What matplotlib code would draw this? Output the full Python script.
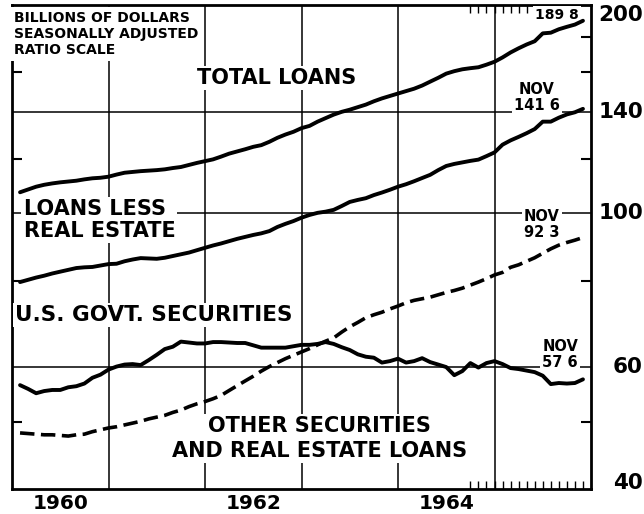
import numpy as np
import matplotlib
matplotlib.use("Agg")
import matplotlib.pyplot as plt
from matplotlib.ticker import FixedLocator, NullLocator, NullFormatter
from matplotlib.transforms import blended_transform_factory

plt.rcParams['font.family'] = 'DejaVu Sans'
plt.rcParams['font.weight'] = 'bold'

# monthly series, Jan 1960 - Nov 1965, billions of dollars (seasonally adjusted)
month_index = np.arange(71)
dates = 1960 + (month_index + 1) / 12.0

total_loans = [
    107.3, 108.3, 109.3, 110.0, 110.5, 110.9, 111.2, 111.5, 112.0, 112.4, 112.6, 113.0,
    113.8, 114.5, 114.8, 115.1, 115.3, 115.5, 115.8, 116.3, 116.7, 117.5, 118.3, 119.0,
    119.7, 120.8, 122.0, 122.9, 123.8, 124.8, 125.5, 126.9, 128.6, 130.0, 131.2, 132.8,
    133.8, 135.7, 137.3, 138.9, 140.2, 141.2, 142.4, 143.6, 145.2, 146.6, 147.8, 149.0,
    150.2, 151.4, 153.0, 155.0, 157.0, 159.2, 160.5, 161.5, 162.1, 162.6, 164.0, 165.6,
    168.0, 170.8, 173.2, 175.4, 177.3, 182.0, 182.4, 184.5, 186.0, 187.4, 189.8]

loans_less_re = [
    79.6, 80.2, 80.8, 81.3, 81.9, 82.4, 82.9, 83.4, 83.6, 83.7, 84.1, 84.5,
    84.6, 85.3, 85.8, 86.2, 86.1, 86.0, 86.3, 86.8, 87.3, 87.8, 88.5, 89.2,
    89.9, 90.5, 91.2, 91.9, 92.5, 93.1, 93.6, 94.3, 95.6, 96.6, 97.5, 98.6,
    99.5, 100.2, 100.6, 101.2, 102.5, 103.9, 104.6, 105.2, 106.3, 107.2, 108.2, 109.3,
    110.2, 111.3, 112.5, 113.7, 115.5, 117.1, 117.9, 118.5, 119.1, 119.6, 121.0, 122.5,
    125.7, 127.5, 129.0, 130.6, 132.4, 135.7, 135.7, 137.5, 139.0, 140.0, 141.6]

govt_secs = [
    56.5, 55.8, 55.0, 55.4, 55.6, 55.6, 56.1, 56.3, 56.8, 57.9, 58.5, 59.5,
    60.1, 60.5, 60.6, 60.4, 61.4, 62.5, 63.7, 64.2, 65.3, 65.1, 64.9, 64.9,
    65.2, 65.2, 65.1, 65.0, 65.0, 64.5, 64.0, 64.0, 64.0, 64.0, 64.3, 64.6,
    64.6, 64.8, 65.2, 64.8, 64.1, 63.5, 62.6, 62.1, 61.9, 60.9, 61.2, 61.7,
    60.9, 61.2, 61.8, 61.0, 60.5, 60.0, 58.4, 59.2, 60.8, 59.9, 60.8, 61.2,
    60.6, 59.8, 59.6, 59.3, 59.0, 58.3, 56.7, 56.9, 56.8, 56.9, 57.6]

other_secs = [
    48.2, 48.1, 48.0, 47.9, 47.9, 47.8, 47.7, 47.9, 48.0, 48.4, 48.7, 49.0,
    49.2, 49.5, 49.8, 50.1, 50.5, 50.8, 51.1, 51.6, 52.0, 52.6, 53.1, 53.5,
    54.0, 54.6, 55.5, 56.4, 57.3, 58.2, 59.2, 60.1, 60.9, 61.7, 62.4, 63.1,
    63.8, 64.6, 65.4, 66.1, 67.4, 68.6, 69.6, 70.7, 71.4, 72.0, 72.8, 73.5,
    74.3, 74.9, 75.3, 75.7, 76.3, 76.9, 77.4, 78.0, 78.8, 79.6, 80.5, 81.5,
    82.2, 83.6, 84.3, 85.3, 86.3, 87.6, 88.9, 90.0, 90.8, 91.5, 92.3]

year_lines = [1961, 1962, 1963, 1964, 1965]
year_labels = ["1960", "1962", "1964"]
year_label_pos = [1960.5, 1962.5, 1964.5]
grid_values = [60, 100, 140]
scale_labels = [200, 140, 100, 60, 40]
side_ticks = [50, 80, 120, 160, 180]
bottom_month_ticks = 1964 + np.arange(9, 24) / 12.0
top_month_ticks = 1964 + np.arange(9, 17) / 12.0

fig = plt.figure(figsize=(6.44, 5.14), dpi=100)
ax = fig.add_axes([12 / 644, 1 - 489 / 514, 579 / 644, 484 / 514])
ax.set_yscale('log')
ax.set_ylim(40, 200)
ax.set_xlim(1960, 1966)

# grid
for yr in year_lines:
    ax.axvline(yr, color='black', lw=1.1, zorder=1)
for g in grid_values:
    ax.axhline(g, color='black', lw=1.1, zorder=1)

# series
ax.plot(dates, total_loans, color='black', lw=2.8, zorder=4, solid_capstyle='round')
ax.plot(dates, loans_less_re, color='black', lw=2.8, zorder=4, solid_capstyle='round')
ax.plot(dates, govt_secs, color='black', lw=2.8, zorder=4, solid_capstyle='round')
ax.plot(dates, other_secs, color='black', lw=2.6, zorder=4, linestyle=(0, (4.0, 1.8)))

# axes styling
for s in ax.spines.values():
    s.set_linewidth(2.0)
ax.yaxis.set_major_locator(FixedLocator(side_ticks))
ax.yaxis.set_minor_locator(NullLocator())
ax.yaxis.set_major_formatter(NullFormatter())
ax.tick_params(axis='y', which='major', left=True, right=True, direction='in',
               length=7, width=1.5)
ax.set_xticks([])
ax.set_xticks(bottom_month_ticks, minor=True)
ax.xaxis.set_minor_formatter(NullFormatter())
ax.tick_params(axis='x', which='minor', bottom=True, top=False, direction='in',
               length=6, width=1.0)

secax = ax.secondary_xaxis('top')
secax.set_xticks(top_month_ticks)
secax.tick_params(direction='in', length=6, width=1.0, labeltop=False)
secax.spines['top'].set_visible(False)

white = dict(facecolor='white', edgecolor='none', pad=1.5)

# header box
ax.text(0.004, 0.987, "BILLIONS OF DOLLARS\nSEASONALLY ADJUSTED\nRATIO SCALE",
        transform=ax.transAxes, ha='left', va='top', fontsize=10,
        linespacing=1.15, bbox=dict(facecolor='white', edgecolor='none', pad=3), zorder=3)

# series labels
ax.text(1962.74, 157, "TOTAL LOANS", ha='center', va='center', fontsize=15,
        bbox=white, zorder=3)
ax.text(1960.12, 97.9, "LOANS LESS\nREAL ESTATE", ha='left', va='center',
        fontsize=15, linespacing=1.15, bbox=white, zorder=3)
ax.text(1960.03, 71.4, "U.S. GOVT. SECURITIES", ha='left', va='center',
        fontsize=15.5, bbox=white, zorder=3)
ax.text(1963.19, 47.3, "OTHER SECURITIES\nAND REAL ESTATE LOANS", ha='center',
        va='center', fontsize=15, linespacing=1.3, bbox=white, zorder=3)

# latest values
ax.text(1965.44, 147.1, "NOV\n141 6", ha='center', va='center', fontsize=10.5,
        linespacing=1.1, bbox=white, zorder=3)
ax.text(1965.49, 96.3, "NOV\n92 3", ha='center', va='center', fontsize=10.5,
        linespacing=1.1, bbox=white, zorder=3)
ax.text(1965.68, 62.5, "NOV\n57 6", ha='center', va='center', fontsize=10.5,
        linespacing=1.1, bbox=white, zorder=3)
ax.text(1965.65, 193.7, "189 8", ha='center', va='center', fontsize=10,
        bbox=white, zorder=3)

# ratio scale labels on the right
tr = blended_transform_factory(ax.transAxes, ax.transData)
for v in scale_labels:
    va = 'center'
    if v == 200:
        va = 'top'
    elif v == 40:
        va = 'baseline'
    ax.text(1.0898, v, str(v), transform=tr, ha='right', va=va, fontsize=15.5,
            clip_on=False)

# year labels
trx = blended_transform_factory(ax.transData, ax.transAxes)
for pos, lab in zip(year_label_pos, year_labels):
    ax.text(pos, -0.03, lab, transform=trx, ha='center', va='center', fontsize=14.5,
            clip_on=False)

fig.savefig("out.png", dpi=100)
